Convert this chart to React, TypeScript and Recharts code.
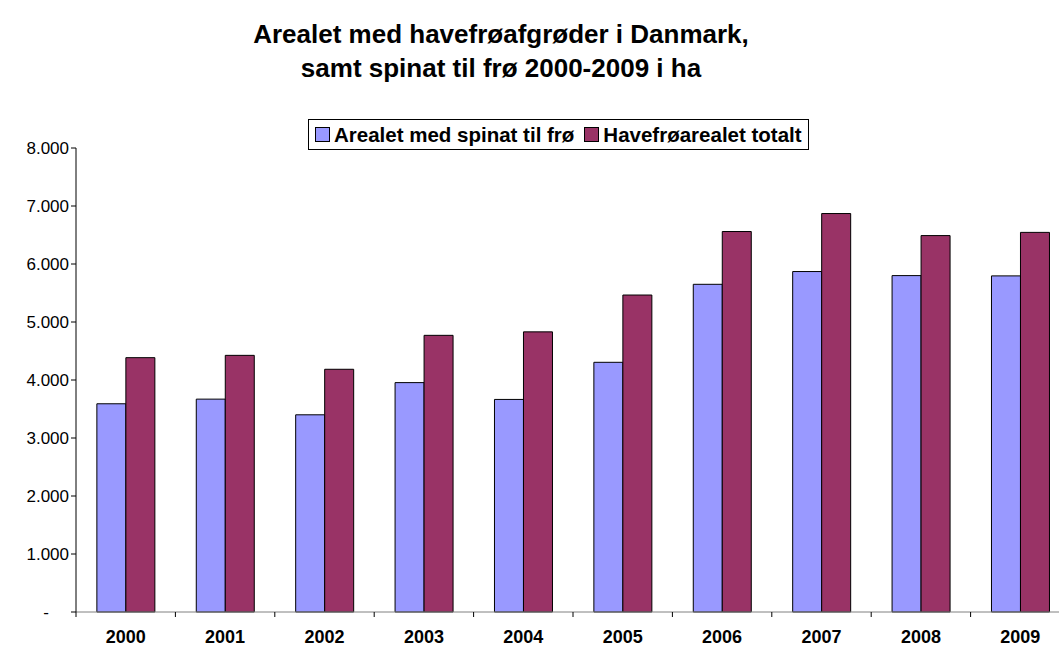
import React from 'react';
import { BarChart, Bar, XAxis, YAxis } from 'recharts';

const years = ['2000', '2001', '2002', '2003', '2004', '2005', '2006', '2007', '2008', '2009'];
const spinat = [3590, 3670, 3400, 3955, 3665, 4305, 5650, 5870, 5800, 5795];
const havefroe = [4385, 4425, 4185, 4770, 4830, 5465, 6560, 6870, 6490, 6545];
const seriesNames = ['Arealet med spinat til frø', 'Havefrøarealet totalt'];
const seriesColors = ['#9999FF', '#993366'];
const yTicks = [0, 1000, 2000, 3000, 4000, 5000, 6000, 7000, 8000];

const data = years.map((year, i) => ({ year, spinat: spinat[i], havefroe: havefroe[i] }));

const FONT = '"Liberation Sans", Arial, sans-serif';

const fmt = (v: number) => (v === 0 ? '-' : v.toLocaleString('da-DK').replace(/\s/g, '.'));

const YTick = ({ x, y, payload }: any) => {
  const v = payload.value;
  return (
    <text
      x={v === 0 ? x - 20 : x}
      y={y}
      dy={6}
      textAnchor="end"
      fontSize={17}
      fontFamily={FONT}
      fill="#000"
    >
      {fmt(v)}
    </text>
  );
};

const XTick = ({ x, y, payload, band }: any) => {
  const half = band / 2;
  return (
    <g>
      <line x1={x - half} x2={x - half} y1={y - 8} y2={y - 3} stroke="#000" strokeWidth={1} />
      <text x={x} y={y + 23} textAnchor="middle" fontSize={18} fontWeight="bold" fontFamily={FONT} fill="#000">
        {payload.value}
      </text>
    </g>
  );
};

export default function App() {
  const chartWidth = 1070;
  const band = (chartWidth - 76) / years.length;
  return (
    <div
      style={{
        position: 'absolute',
        left: 0,
        top: 0,
        width: 1059,
        height: 646,
        overflow: 'hidden',
        background: '#fff',
        fontFamily: FONT,
      }}
    >
      <div
        style={{
          position: 'absolute',
          left: 0,
          top: 17,
          width: 1002,
          textAlign: 'center',
          fontSize: 26,
          lineHeight: '34px',
          fontWeight: 'bold',
          color: '#000',
        }}
      >
        Arealet med havefrøafgrøder i Danmark,
        <br />
        samt spinat til frø 2000-2009 i ha
      </div>

      <div
        style={{
          position: 'absolute',
          left: 308,
          top: 119,
          height: 29,
          border: '1px solid #000',
          padding: '0 6px',
          display: 'flex',
          alignItems: 'center',
          fontSize: 20.5,
          fontWeight: 'bold',
          whiteSpace: 'nowrap',
          background: '#fff',
        }}
      >
        {seriesNames.map((name, i) => (
          <span key={name} style={{ display: 'flex', alignItems: 'center', marginRight: i === 0 ? 10 : 0 }}>
            <span
              style={{
                display: 'inline-block',
                width: 13,
                height: 13,
                border: '1px solid #000',
                background: seriesColors[i],
                marginRight: 4,
              }}
            />
            {name}
          </span>
        ))}
      </div>

      <div style={{ position: 'absolute', left: 0, top: 0 }}>
        <BarChart
          width={chartWidth}
          height={646}
          data={data}
          margin={{ top: 148, right: 0, bottom: 0, left: 0 }}
          barCategoryGap="21%"
          barGap={0}
        >
          <XAxis
            dataKey="year"
            height={34}
            axisLine={{ stroke: '#808080', strokeWidth: 1 }}
            tickLine={false}
            tick={<XTick band={band} />}
            interval={0}
          />
          <YAxis
            width={76}
            domain={[0, 8000]}
            ticks={yTicks}
            interval={0}
            axisLine={{ stroke: '#000', strokeWidth: 1 }}
            tickLine={{ stroke: '#000', strokeWidth: 1 }}
            tickSize={5}
            tick={<YTick />}
          />
          <Bar dataKey="spinat" name={seriesNames[0]} fill={seriesColors[0]} stroke="#000" strokeWidth={1} isAnimationActive={false} />
          <Bar dataKey="havefroe" name={seriesNames[1]} fill={seriesColors[1]} stroke="#000" strokeWidth={1} isAnimationActive={false} />
        </BarChart>
      </div>
    </div>
  );
}
